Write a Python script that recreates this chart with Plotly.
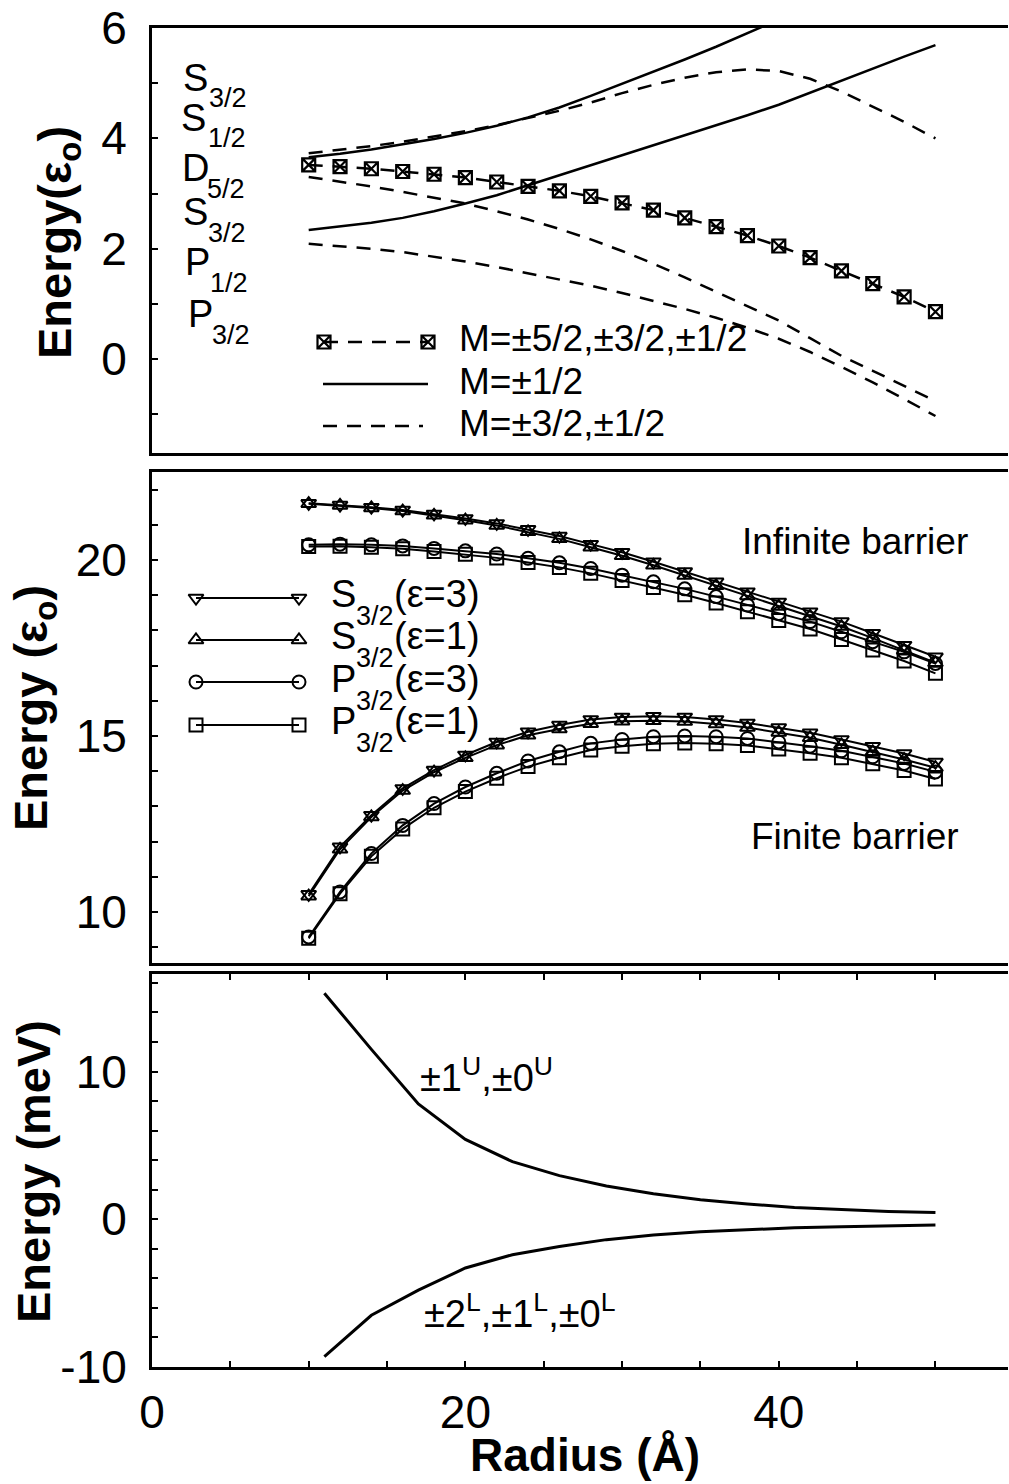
import plotly.graph_objects as go

W, H = 1009, 1484
FONT = "Liberation Sans"

# ---------------- data ----------------
radius = [10, 12, 14, 16, 18, 20, 22, 24, 26, 28, 30, 32, 34, 36, 38, 40, 42, 44, 46, 48, 50]

# top panel (energy in eps_o)
m_all = [3.52, 3.49, 3.45, 3.40, 3.35, 3.29, 3.21, 3.13, 3.05, 2.95, 2.83, 2.70,
         2.56, 2.40, 2.24, 2.05, 1.84, 1.60, 1.37, 1.13, 0.86]
m_half_upper_r = [10, 12, 14, 16, 18, 20, 22, 24, 26, 28, 30, 32, 34, 36, 38, 40, 42]
m_half_upper = [3.66, 3.72, 3.80, 3.89, 3.99, 4.10, 4.23, 4.38, 4.56, 4.77, 4.99,
                5.20, 5.43, 5.66, 5.90, 6.14, 6.40]
m_half_lower = [2.34, 2.40, 2.47, 2.56, 2.68, 2.82, 2.97, 3.15, 3.33, 3.51, 3.69,
                3.87, 4.05, 4.23, 4.42, 4.61, 4.83, 5.05, 5.26, 5.48, 5.69]
m_32_a = [3.73, 3.79, 3.86, 3.94, 4.03, 4.13, 4.24, 4.37, 4.50, 4.65, 4.82, 4.97,
          5.10, 5.20, 5.25, 5.22, 5.08, 4.85, 4.58, 4.30, 4.00]
m_32_b = [3.30, 3.22, 3.13, 3.03, 2.93, 2.82, 2.68, 2.53, 2.36, 2.17, 1.96, 1.73,
          1.48, 1.22, 0.96, 0.70, 0.38, 0.06, -0.21, -0.49, -0.76]
m_32_c = [2.09, 2.05, 2.00, 1.94, 1.86, 1.77, 1.67, 1.56, 1.45, 1.33, 1.20, 1.06,
          0.91, 0.75, 0.57, 0.37, 0.13, -0.14, -0.42, -0.72, -1.03]

# middle panel
inf_S3 = [21.61, 21.56, 21.50, 21.42, 21.31, 21.18, 21.04, 20.87, 20.68, 20.45, 20.22,
          19.95, 19.67, 19.38, 19.10, 18.81, 18.53, 18.25, 17.92, 17.58, 17.25]
inf_S1 = [21.60, 21.55, 21.48, 21.39, 21.27, 21.13, 20.98, 20.80, 20.60, 20.36, 20.12,
          19.85, 19.56, 19.27, 18.98, 18.68, 18.40, 18.11, 17.78, 17.43, 17.08]
inf_P3 = [20.43, 20.45, 20.43, 20.40, 20.33, 20.26, 20.17, 20.05, 19.92, 19.76, 19.57,
          19.38, 19.18, 18.96, 18.72, 18.48, 18.25, 17.96, 17.68, 17.39, 17.06]
inf_P1 = [20.38, 20.39, 20.36, 20.32, 20.24, 20.16, 20.06, 19.93, 19.79, 19.62, 19.42,
          19.22, 19.01, 18.78, 18.53, 18.28, 18.04, 17.74, 17.44, 17.13, 16.78]
fin_S3 = [10.50, 11.85, 12.75, 13.51, 14.03, 14.46, 14.83, 15.12, 15.31, 15.47, 15.54,
          15.56, 15.54, 15.47, 15.37, 15.24, 15.09, 14.90, 14.71, 14.50, 14.26]
fin_S1 = [10.45, 11.78, 12.70, 13.45, 13.97, 14.38, 14.74, 15.02, 15.20, 15.35, 15.42,
          15.43, 15.41, 15.34, 15.24, 15.10, 14.95, 14.75, 14.55, 14.33, 14.10]
fin_P3 = [9.29, 10.57, 11.66, 12.46, 13.08, 13.55, 13.94, 14.29, 14.55, 14.79, 14.90,
          14.98, 15.00, 14.98, 14.93, 14.83, 14.71, 14.58, 14.41, 14.22, 13.98]
fin_P1 = [9.25, 10.52, 11.58, 12.36, 12.96, 13.42, 13.80, 14.13, 14.38, 14.60, 14.71,
          14.78, 14.80, 14.78, 14.73, 14.63, 14.51, 14.38, 14.21, 14.02, 13.78]

# bottom panel (meV)
split_r = [11, 14, 17, 20, 23, 26, 29, 32, 35, 38, 41, 44, 47, 50]
split_upper = [15.3, 11.5, 7.8, 5.4, 3.9, 2.95, 2.25, 1.72, 1.32, 1.03, 0.80, 0.64, 0.53, 0.45]
split_lower = [-9.3, -6.5, -4.8, -3.3, -2.4, -1.85, -1.38, -1.06, -0.85, -0.70, -0.58,
               -0.50, -0.44, -0.39]

top_ticks = [0, 2, 4, 6]
mid_ticks = [10, 15, 20]
bot_ticks = [-10, 0, 10]
bot_ticktext = ["-10", "0", "10"]
x_ticks = [0, 20, 40]

# ---------------- style ----------------
K = "black"
DASH = "14px,10px"
X_RANGE = [0, 54.63]
XDOM = [152 / W, 1008 / W]


def ydom(top_px, bot_px):
    return [1 - bot_px / H, 1 - top_px / H]


fig = go.Figure()

# top panel traces
fig.add_trace(go.Scatter(x=radius, y=m_all, mode="lines+markers", xaxis="x", yaxis="y",
                         line=dict(color=K, width=2.5, dash=DASH),
                         marker=dict(symbol="square-x-open", size=13, color=K, line=dict(width=2.2, color=K))))
fig.add_trace(go.Scatter(x=m_half_upper_r, y=m_half_upper, mode="lines", xaxis="x", yaxis="y",
                         line=dict(color=K, width=2.5)))
fig.add_trace(go.Scatter(x=radius, y=m_half_lower, mode="lines", xaxis="x", yaxis="y",
                         line=dict(color=K, width=2.5)))
for ys in (m_32_a, m_32_b, m_32_c):
    fig.add_trace(go.Scatter(x=radius, y=ys, mode="lines", xaxis="x", yaxis="y",
                             line=dict(color=K, width=2.5, dash=DASH)))

# middle panel traces
mid_series = [
    (inf_S3, "triangle-down-open"), (inf_S1, "triangle-up-open"),
    (inf_P3, "circle-open"), (inf_P1, "square-open"),
    (fin_S3, "triangle-down-open"), (fin_S1, "triangle-up-open"),
    (fin_P3, "circle-open"), (fin_P1, "square-open"),
]
for ys, sym in mid_series:
    fig.add_trace(go.Scatter(x=radius, y=ys, mode="lines+markers", xaxis="x2", yaxis="y2",
                             line=dict(color=K, width=2),
                             marker=dict(symbol=sym, size=13, color=K, line=dict(width=2, color=K))))

# bottom panel traces
for ys in (split_upper, split_lower):
    fig.add_trace(go.Scatter(x=split_r, y=ys, mode="lines", xaxis="x3", yaxis="y3",
                             line=dict(color=K, width=3)))

# legend samples drawn on a full-page overlay axis (pixel units)
leg_top = [  # (y, x0, x1, dash, marker)
    (342, 324, 428, DASH, "square-x-open"),
    (384, 323, 428, None, None),
    (426, 323, 423, DASH, None),
]
leg_mid = [
    (598, "triangle-down-open"), (640, "triangle-up-open"),
    (682, "circle-open"), (725, "square-open"),
]
for yy, x0, x1, dsh, sym in leg_top:
    fig.add_trace(go.Scatter(x=[x0, x1], y=[yy, yy], xaxis="x4", yaxis="y4",
                             mode="lines+markers" if sym else "lines",
                             line=dict(color=K, width=2.5, dash=dsh if dsh else "solid"),
                             marker=dict(symbol=sym or "circle", size=13, color=K,
                                         line=dict(width=2.2, color=K))))
for yy, sym in leg_mid:
    fig.add_trace(go.Scatter(x=[196, 299], y=[yy, yy], xaxis="x4", yaxis="y4",
                             mode="lines+markers", line=dict(color=K, width=2),
                             marker=dict(symbol=sym, size=13, color=K, line=dict(width=2, color=K))))

# ---------------- annotations ----------------
ann = []


def txt(s, x, base, size=37):
    yb = base + 0.212 * size + 1
    ann.append(dict(text=s, x=(x - 1) / W, y=1 - yb / H, xref="paper", yref="paper",
                    xanchor="left", yanchor="bottom", showarrow=False,
                    font=dict(family=FONT, size=size, color=K)))


def vtitle(s, cx, cy):
    ann.append(dict(text="<b>" + s + "</b>", x=cx / W, y=1 - cy / H, xref="paper", yref="paper",
                    xanchor="center", yanchor="middle", textangle=-90, showarrow=False,
                    font=dict(family=FONT, size=47, color=K)))


# top-left level labels
levels = [("S", "3/2", 182, 92, 208, 108), ("S", "1/2", 180, 132, 207, 148),
          ("D", "5/2", 181, 182, 206, 199), ("S", "3/2", 182, 226, 207, 243),
          ("P", "1/2", 184, 276, 209, 293), ("P", "3/2", 187, 328, 211, 345)]
for L, sub, lx, lb, sx, sb in levels:
    txt(L, lx, lb, 38)
    txt(sub, sx, sb, 27)

# top legend labels
txt("M=±5/2,±3/2,±1/2", 458, 352, 37)
txt("M=±1/2", 458, 395, 37)
txt("M=±3/2,±1/2", 458, 437, 37)

# middle legend labels
mid_labels = [("S", "(ε=3)", 608), ("S", "(ε=1)", 650), ("P", "(ε=3)", 693), ("P", "(ε=1)", 735)]
for L, rest, b in mid_labels:
    txt(L, 330, b, 38)
    txt("3/2", 355, b + 18, 27)
    txt(rest, 393, b, 38)

txt("Infinite barrier", 741, 555, 37)
txt("Finite barrier", 750, 850, 37)

txt("±1<sup>U</sup>,±0<sup>U</sup>", 419, 1092, 38)
txt("±2<sup>L</sup>,±1<sup>L</sup>,±0<sup>L</sup>", 423, 1328, 38)

vtitle("Energy(ε<sub>o</sub>)", 58, 243)
vtitle("Energy (ε<sub>o</sub>)", 34, 708)
vtitle("Energy (meV)", 33, 1172)

ann.append(dict(text="<b>Radius (Å)</b>", x=585 / W, y=1 - (1472 + 0.212 * 46 + 1) / H,
                xref="paper", yref="paper", xanchor="center", yanchor="bottom",
                showarrow=False, font=dict(family=FONT, size=46, color=K)))

# ---------------- axes ----------------
tickfont = dict(family=FONT, size=46, color=K)


def yax(dom, rng, tickvals, minor_dtick, ticktext=None):
    d = dict(domain=dom, range=rng, tickmode="array", tickvals=tickvals, automargin=False,
             ticks="inside", ticklen=6, tickwidth=2, tickcolor=K,
             showline=True, linewidth=3, linecolor=K, mirror=False,
             showgrid=False, zeroline=False, tickfont=tickfont, ticklabelstandoff=13,
             minor=dict(dtick=minor_dtick, tick0=0, ticks="inside", ticklen=6,
                        tickwidth=2, tickcolor=K, showgrid=False))
    if ticktext:
        d["ticktext"] = ticktext
    return d


def xax(anchor, show_ticks):
    d = dict(domain=XDOM, range=X_RANGE, anchor=anchor, showline=True, linewidth=3,
             linecolor=K, showgrid=False, zeroline=False, automargin=False)
    if show_ticks:
        d.update(tickmode="array", tickvals=x_ticks, ticks="inside", ticklen=6, tickwidth=2,
                 tickcolor=K, mirror="ticks", tickfont=tickfont, ticklabelstandoff=3,
                 minor=dict(dtick=5, tick0=0, ticks="inside", ticklen=6, tickwidth=2,
                            tickcolor=K, showgrid=False))
    else:
        d.update(mirror=True, ticks="", showticklabels=False)
    return d


fig.update_layout(
    width=W, height=H,
    margin=dict(l=0, r=0, t=0, b=0, autoexpand=False),
    paper_bgcolor="white", plot_bgcolor="rgba(0,0,0,0)",
    showlegend=False,
    font=dict(family=FONT, color=K),
    xaxis=xax("y", False),
    yaxis=yax(ydom(28, 453), [-1.7, 6], top_ticks, 1),
    xaxis2=xax("y2", False),
    yaxis2=yax(ydom(472, 963), [8.55, 22.5], mid_ticks, 1),
    xaxis3=xax("y3", True),
    yaxis3=yax(ydom(974, 1367), [-10, 16.6], bot_ticks, 2, bot_ticktext),
    xaxis4=dict(domain=[0, 1], range=[0, W], anchor="y4", visible=False, fixedrange=True,
                automargin=False),
    yaxis4=dict(domain=[0, 1], range=[H, 0], anchor="x4", visible=False, fixedrange=True,
                automargin=False),
    annotations=ann,
)

fig.write_html("out.html", config={"displayModeBar": False},
               post_script="document.body.style.margin='0';document.body.style.overflow='hidden';")
